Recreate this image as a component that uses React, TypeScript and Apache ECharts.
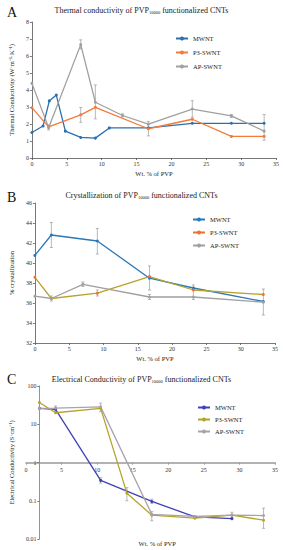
import React, { useEffect, useRef } from "react";
import * as echarts from "echarts";

const FONT = "Liberation Serif";

// Panel A – thermal conductivity
const xA_MW = [0, 1.6, 2.5, 3.5, 4.8, 7, 9.1, 11.1, 16.7, 23, 28.6, 33.3];
const yA_MW = [1.5, 1.88, 3.36, 3.7, 1.58, 1.21, 1.17, 1.77, 1.77, 2.04, 2.04, 2.04];
const xA_P3 = [0, 2.4, 7, 9.1, 16.7, 23, 28.6, 33.3];
const yA_P3 = [2.96, 1.83, 2.54, 2.98, 1.72, 2.28, 1.27, 1.27];
const xA_AP = [0, 2.4, 7, 9.1, 13, 16.7, 23, 28.6, 33.3];
const yA_AP = [4.39, 1.78, 6.67, 3.28, 2.5, 1.99, 2.88, 2.48, 1.58];
const errA = [
  [2.4, 1.65, 1.95],
  [7, 6.42, 6.95],
  [7, 2.1, 2.97],
  [9.1, 2.3, 4.3],
  [13, 2.42, 2.6],
  [16.7, 1.3, 2.15],
  [23, 2.4, 3.37],
  [28.6, 2.38, 2.56],
  [33.3, 1.05, 2.56],
];

// Panel B – crystallization
const xB = [0, 2.4, 9.1, 16.7, 23.1, 33.3];
const yB_MW = [40.76, 42.8, 42.2, 38.48, 37.5, 36.15];
const yB_P3 = [38.57, 36.45, 36.98, 38.64, 37.3, 36.85];
const xB_AP = [0, 2.4, 7, 16.7, 23.1, 33.3];
const yB_AP = [36.68, 36.45, 37.87, 36.6, 36.6, 36.08];
const errB = [
  [2.4, 41.55, 44.05],
  [2.4, 36.2, 36.7],
  [7, 37.65, 38.1],
  [9.1, 40.9, 43.45],
  [9.1, 36.7, 37.3],
  [16.7, 37.3, 39.7],
  [16.7, 36.35, 36.85],
  [23.1, 36.35, 37.8],
  [33.3, 34.8, 37.4],
];

// Panel C – electrical conductivity (log scale)
const xC_MW = [0, 2.4, 9.1, 16.7, 23.1, 28.6];
const yC_MW = [26, 24.5, 0.34, 0.096, 0.038, 0.034];
const xC_P3 = [0, 2.4, 9.1, 13, 16.7, 23.1, 28.6, 33.3];
const yC_P3 = [37, 20, 26, 0.158, 0.042, 0.035, 0.042, 0.031];
const xC_AP = [0, 2.4, 9.1, 16.7, 23.1, 28.6, 33.3];
const yC_AP = [26, 26.5, 28.5, 0.044, 0.039, 0.042, 0.041];
const errC = [
  [2.4, 22, 30],
  [9.1, 21.3, 35.6],
  [9.1, 0.29, 0.4],
  [13, 0.1, 0.22],
  [16.7, 0.03, 0.052],
  [16.7, 0.085, 0.11],
  [28.6, 0.036, 0.05],
  [33.3, 0.019, 0.064],
];

function pairs(xs: number[], ys: number[]) {
  return xs.map((x, i) => [x, ys[i]]);
}

function lineSeries(name: string, xs: number[], ys: number[], color: string, gi: number, markColor?: string) {
  return {
    type: "line",
    name,
    xAxisIndex: gi,
    yAxisIndex: gi,
    data: pairs(xs, ys),
    symbol: "circle",
    symbolSize: 3,
    lineStyle: { color, width: 1.3 },
    itemStyle: { color: markColor || color },
    z: 3,
  };
}

function errSeries(data: number[][], gi: number, color: string) {
  return {
    type: "custom",
    name: "err" + gi,
    xAxisIndex: gi,
    yAxisIndex: gi,
    data,
    encode: { x: 0, y: [1, 2] },
    z: 2,
    renderItem: (_p: any, api: any) => {
      const x = api.value(0);
      const p1 = api.coord([x, api.value(1)]);
      const p2 = api.coord([x, api.value(2)]);
      const w = 1.5;
      const st = { stroke: color, lineWidth: 0.7 };
      return {
        type: "group",
        children: [
          { type: "line", shape: { x1: p1[0], y1: p1[1], x2: p2[0], y2: p2[1] }, style: st },
          { type: "line", shape: { x1: p1[0] - w, y1: p1[1], x2: p1[0] + w, y2: p1[1] }, style: st },
          { type: "line", shape: { x1: p2[0] - w, y1: p2[1], x2: p2[0] + w, y2: p2[1] }, style: st },
        ],
      };
    },
  };
}

const axisLineStyle = { lineStyle: { color: "#555", width: 0.8 } };
const tickStyle = { show: true, length: 2, lineStyle: { color: "#555", width: 0.8 } };
const labelStyle = { fontSize: 6, fontFamily: FONT, color: "#333", margin: 3 };
const nameStyle = { fontSize: 6.5, fontFamily: FONT, color: "#222" };

function titleText(a: string, b: string) {
  return `{a|${a}}{s|10000}{a|${b}}`;
}
const titleRich = {
  a: { fontSize: 8, fontFamily: FONT, color: "#222", fontWeight: "normal" },
  s: { fontSize: 4.5, fontFamily: FONT, color: "#222", fontWeight: "normal", padding: [4, 0, 0, 0] },
};
const titleStyle = { fontSize: 8, fontWeight: "normal", fontFamily: FONT, color: "#222", rich: titleRich };
const letterStyle = { fontSize: 14, fontWeight: "normal", fontFamily: FONT, color: "#111" };

export default function App() {
  const ref = useRef<HTMLDivElement>(null);
  useEffect(() => {
    if (!ref.current) return;
    const chart = echarts.init(ref.current, null, { renderer: "svg" });
    const strip = (n: string) => n.split("|")[0];
    const legendCommon = {
      orient: "vertical",
      itemWidth: 12,
      itemHeight: 5,
      formatter: strip,
      textStyle: { fontSize: 6.5, fontFamily: FONT, color: "#222" },
    };
    chart.setOption({
      animation: false,
      backgroundColor: "#fff",
      title: [
        { text: "A", left: 2, top: 0, textStyle: letterStyle },
        { text: titleText("Thermal conductivity of PVP", " functionalized CNTs"), left: "center", top: 1, textStyle: titleStyle },
        { text: "B", left: 2, top: 185, textStyle: letterStyle },
        { text: titleText("Crystallization of PVP", " functionalized CNTs"), left: "center", top: 186, textStyle: titleStyle },
        { text: "C", left: 2, top: 367, textStyle: letterStyle },
        { text: titleText("Electrical Conductivity of PVP", " functionalized CNTs"), left: "center", top: 370, textStyle: titleStyle },
      ],
      legend: [
        { ...legendCommon, left: 170, top: 30, itemGap: 7, data: ["MWNT", "P3-SWNT", "AP-SWNT"] },
        {
          ...legendCommon,
          left: 187,
          top: 211,
          itemGap: 6,
          data: [
            "MWNT|B",
            { name: "P3-SWNT|B", itemStyle: { color: "#f07030" }, lineStyle: { color: "#f07030" } },
            "AP-SWNT|B",
          ],
        },
        { ...legendCommon, left: 192, top: 399, itemGap: 5, data: ["MWNT|C", "P3-SWNT|C", "AP-SWNT|C"] },
      ],
      grid: [
        { left: 23, top: 22, width: 253, height: 136 },
        { left: 28, top: 203, width: 247, height: 140 },
        { left: 26, top: 386, width: 249, height: 153 },
        { left: 26, top: 461.7, width: 249, height: 1 },
      ],
      xAxis: [
        {
          type: "value", gridIndex: 0, min: 0, max: 35, interval: 5,
          axisLine: axisLineStyle, axisTick: tickStyle, splitLine: { show: false },
          axisLabel: labelStyle,
          name: "Wt. % of PVP", nameLocation: "middle", nameGap: 12, nameTextStyle: nameStyle,
        },
        {
          type: "value", gridIndex: 1, min: 0, max: 35, interval: 5,
          axisLine: axisLineStyle, axisTick: tickStyle, splitLine: { show: false },
          axisLabel: labelStyle,
          name: "Wt. % of PVP", nameLocation: "middle", nameGap: 12, nameTextStyle: nameStyle,
        },
        {
          type: "value", gridIndex: 2, min: 0, max: 35, interval: 5,
          axisLine: { show: false }, axisTick: { show: false }, axisLabel: { show: false }, splitLine: { show: false },
          name: "Wt. % of PVP", nameLocation: "middle", nameGap: 1, nameTextStyle: nameStyle,
        },
        {
          type: "value", gridIndex: 3, min: 0, max: 35, interval: 5, position: "bottom",
          axisLine: { lineStyle: { color: "#999", width: 1.5 } },
          axisTick: { show: true, length: 2, lineStyle: { color: "#999" } },
          splitLine: { show: false },
          axisLabel: { ...labelStyle, margin: 4 },
        },
      ],
      yAxis: [
        {
          type: "value", gridIndex: 0, min: 0, max: 8, interval: 1,
          axisLine: { show: true, ...axisLineStyle }, axisTick: tickStyle, splitLine: { show: false },
          axisLabel: labelStyle,
          name: "Thermal Conductivity (W·m⁻¹·K⁻¹)", nameLocation: "middle", nameGap: 11, nameTextStyle: nameStyle,
        },
        {
          type: "value", gridIndex: 1, min: 32, max: 46, interval: 2,
          axisLine: { show: true, ...axisLineStyle }, axisTick: tickStyle, splitLine: { show: false },
          axisLabel: labelStyle,
          name: "% crystallization", nameLocation: "middle", nameGap: 13, nameTextStyle: nameStyle,
        },
        {
          type: "log", logBase: 10, gridIndex: 2, min: 0.01, max: 100,
          axisLine: { show: true, lineStyle: { color: "#777", width: 0.8 } }, axisTick: { ...tickStyle, lineStyle: { color: "#777" } },
          splitLine: { show: false }, minorTick: { show: false },
          axisLabel: {
            ...labelStyle,
            formatter: (v: number) => (v >= 1 ? String(Math.round(v)) : v < 0.05 ? "0.01" : "0.1"),
          },
          name: "Electrical Conductivity (S·cm⁻¹)", nameLocation: "middle", nameGap: 13, nameTextStyle: nameStyle,
        },
        { type: "value", gridIndex: 3, min: 0, max: 1, show: false },
      ],
      series: [
        errSeries(errA, 0, "#9a9a9a"),
        lineSeries("MWNT", xA_MW, yA_MW, "#2a6fb0", 0),
        lineSeries("P3-SWNT", xA_P3, yA_P3, "#f47a3a", 0),
        lineSeries("AP-SWNT", xA_AP, yA_AP, "#a0a0a0", 0),
        errSeries(errB, 1, "#9a9a9a"),
        lineSeries("MWNT|B", xB, yB_MW, "#2a78b8", 1),
        lineSeries("P3-SWNT|B", xB, yB_P3, "#b9a22c", 1, "#f07030"),
        lineSeries("AP-SWNT|B", xB_AP, yB_AP, "#a0a0a0", 1),
        errSeries(errC, 2, "#9a9a9a"),
        lineSeries("MWNT|C", xC_MW, yC_MW, "#4040b8", 2),
        lineSeries("P3-SWNT|C", xC_P3, yC_P3, "#b5a32a", 2),
        lineSeries("AP-SWNT|C", xC_AP, yC_AP, "#aaa2aa", 2),
      ],
    });
    return () => chart.dispose();
  }, []);
  return (
    <div
      ref={ref}
      style={{ position: "fixed", left: 0, top: 0, width: 283, height: 550, background: "#fff" }}
    />
  );
}
